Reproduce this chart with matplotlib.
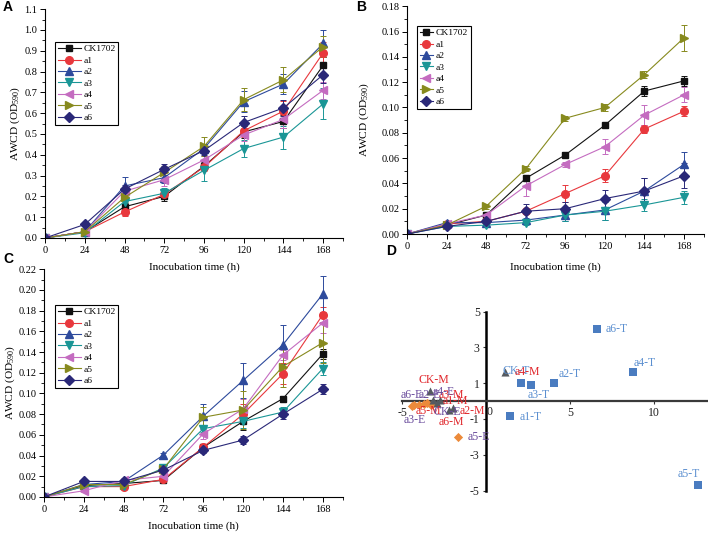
import matplotlib
matplotlib.use("Agg")
import matplotlib.pyplot as plt
from matplotlib.ticker import MultipleLocator, FormatStrFormatter
from matplotlib.lines import Line2D
import matplotlib.transforms as mtransforms

# ---------------- data ----------------
hours = [0, 24, 48, 72, 96, 120, 144, 168]
series_names = ["CK1702", "a1", "a2", "a3", "a4", "a5", "a6"]

# Panel A
A_CK = [0, 0.030, 0.150, 0.200, 0.345, 0.510, 0.560, 0.830]
A_a1 = [0, 0.030, 0.125, 0.210, 0.340, 0.515, 0.610, 0.890]
A_a2 = [0, 0.030, 0.250, 0.290, 0.430, 0.655, 0.740, 0.935]
A_a3 = [0, 0.025, 0.175, 0.215, 0.325, 0.430, 0.485, 0.645]
A_a4 = [0, 0.030, 0.225, 0.280, 0.375, 0.495, 0.570, 0.710]
A_a5 = [0, 0.030, 0.195, 0.315, 0.440, 0.665, 0.760, 0.920]
A_a6 = [0, 0.065, 0.235, 0.330, 0.420, 0.555, 0.625, 0.785]
A_err_CK = [0, 0.005, 0.020, 0.020, 0.020, 0.030, 0.030, 0.040]
A_err_a1 = [0, 0.005, 0.020, 0.020, 0.020, 0.030, 0.050, 0.050]
A_err_a2 = [0, 0.005, 0.045, 0.025, 0.020, 0.050, 0.050, 0.065]
A_err_a3 = [0, 0.005, 0.020, 0.025, 0.050, 0.040, 0.055, 0.075]
A_err_a4 = [0, 0.005, 0.020, 0.030, 0.020, 0.030, 0.040, 0.040]
A_err_a5 = [0, 0.005, 0.020, 0.030, 0.045, 0.055, 0.060, 0.050]
A_err_a6 = [0, 0.005, 0.020, 0.025, 0.020, 0.030, 0.040, 0.040]

# Panel B
B_CK = [0, 0.007, 0.015, 0.044, 0.0625, 0.086, 0.113, 0.121]
B_a1 = [0, 0.008, 0.010, 0.018, 0.032, 0.046, 0.083, 0.097]
B_a2 = [0, 0.009, 0.009, 0.011, 0.015, 0.019, 0.034, 0.055]
B_a3 = [0, 0.006, 0.007, 0.009, 0.015, 0.018, 0.023, 0.029]
B_a4 = [0, 0.008, 0.015, 0.038, 0.055, 0.069, 0.094, 0.110]
B_a5 = [0, 0.007, 0.022, 0.0515, 0.0915, 0.100, 0.126, 0.155]
B_a6 = [0, 0.006, 0.010, 0.018, 0.020, 0.028, 0.034, 0.046]
B_err_CK = [0, 0.001, 0.002, 0.002, 0.002, 0.002, 0.004, 0.004]
B_err_a1 = [0, 0.001, 0.001, 0.002, 0.007, 0.005, 0.003, 0.004]
B_err_a2 = [0, 0.001, 0.001, 0.002, 0.005, 0.008, 0.010, 0.010]
B_err_a3 = [0, 0.001, 0.001, 0.002, 0.005, 0.007, 0.005, 0.005]
B_err_a4 = [0, 0.001, 0.002, 0.008, 0.002, 0.006, 0.008, 0.006]
B_err_a5 = [0, 0.001, 0.002, 0.002, 0.002, 0.003, 0.003, 0.010]
B_err_a6 = [0, 0.001, 0.001, 0.006, 0.005, 0.007, 0.010, 0.010]

# Panel C
C_CK = [0, 0.011, 0.013, 0.016, 0.048, 0.073, 0.095, 0.138]
C_a1 = [0, 0.010, 0.010, 0.017, 0.048, 0.080, 0.119, 0.176]
C_a2 = [0, 0.012, 0.015, 0.0405, 0.078, 0.1125, 0.147, 0.196]
C_a3 = [0, 0.010, 0.011, 0.028, 0.066, 0.073, 0.082, 0.124]
C_a4 = [0, 0.006, 0.016, 0.020, 0.061, 0.085, 0.137, 0.168]
C_a5 = [0, 0.012, 0.012, 0.027, 0.077, 0.084, 0.126, 0.149]
C_a6 = [0, 0.015, 0.015, 0.026, 0.045, 0.055, 0.080, 0.104]
C_err_CK = [0, 0.001, 0.001, 0.002, 0.003, 0.008, 0.003, 0.005]
C_err_a1 = [0, 0.001, 0.001, 0.002, 0.003, 0.010, 0.010, 0.007]
C_err_a2 = [0, 0.001, 0.001, 0.002, 0.012, 0.017, 0.019, 0.017]
C_err_a3 = [0, 0.001, 0.002, 0.003, 0.003, 0.006, 0.005, 0.006]
C_err_a4 = [0, 0.001, 0.002, 0.003, 0.005, 0.010, 0.005, 0.010]
C_err_a5 = [0, 0.001, 0.001, 0.005, 0.010, 0.018, 0.020, 0.020]
C_err_a6 = [0, 0.001, 0.001, 0.002, 0.003, 0.004, 0.005, 0.005]

# Panel D (ordination scores)
T_labels = ["a6-T", "a4-T", "a2-T", "CK-T", "a3-T", "a1-T", "a5-T"]
T_x = [6.6, 8.75, 4.05, 2.1, 2.7, 1.4, 12.6]
T_y = [4.0, 1.6, 1.0, 1.0, 0.9, -0.85, -4.7]
M_labels = ["CK-M", "a4-M", "a3-M", "a5-M", "a1-M", "a6-M", "a2-M"]
M_x = [-3.33, 1.13, -2.75, -3.15, -2.9, -2.2, -1.95]
M_y = [0.55, 1.6, 0.05, 0.05, -0.1, -0.5, -0.4]
E_labels = ["a6-E", "a2-E", "a4-E", "CK-E", "a3-E", "a1-E", "a5-E"]
E_x = [-4.3, -4.0, -3.5, -3.3, -4.4, -3.7, -1.67]
E_y = [-0.25, -0.2, -0.1, -0.2, -0.3, -0.15, -2.0]

# label text positions for panel D (left edge, centre y)
T_lab_x = [7.1, 8.8, 4.3, 0.95, 2.45, 2.0, 11.4]
T_lab_y = [4.0, 2.1, 1.5, 1.7, 0.35, -0.9, -4.1]
M_lab_x = [-4.0, 1.7, -2.85, -4.2, -2.6, -2.8, -1.6]
M_lab_y = [1.2, 1.6, 0.33, -0.55, 0.0, -1.15, -0.55]
E_lab_x = [-5.1, -4.0, -3.2, -3.15, -4.9, None, -1.1]
E_lab_y = [0.33, 0.33, 0.5, -0.6, -1.05, None, -2.0]

# ---------------- styles ----------------
colors = ["#111111", "#e8383d", "#2d4a9c", "#1a9696", "#c46cc0", "#878a1e", "#2a2878"]
markers = ["s", "o", "^", "v", "<", ">", "D"]
msizes = [5.0, 5.5, 5.5, 5.5, 5.5, 5.5, 5.0]

serif = "Liberation Serif"
plt.rcParams["font.family"] = serif
plt.rcParams["mathtext.fontset"] = "custom"
plt.rcParams["mathtext.rm"] = serif
plt.rcParams["mathtext.it"] = serif
plt.rcParams["axes.unicode_minus"] = False

fig = plt.figure(figsize=(7.08, 5.36), dpi=100)


def line_panel(rect, data, errs, ymax, ymajor, fmt, leg_anchor, hlen, ylab_x, xlab_y):
    ax = fig.add_axes(rect)
    ax.patch.set_alpha(0)
    for i, name in enumerate(series_names):
        ax.errorbar(hours, data[i], yerr=errs[i], color=colors[i], marker=markers[i],
                    markersize=msizes[i], linewidth=0.8, elinewidth=0.7, capsize=2.0,
                    capthick=0.7, ecolor=colors[i])
    ax.set_xlim(0, 180)
    ax.set_ylim(0, ymax)
    ax.xaxis.set_major_locator(MultipleLocator(24))
    ax.xaxis.set_minor_locator(MultipleLocator(12))
    ax.yaxis.set_major_locator(MultipleLocator(ymajor))
    ax.yaxis.set_minor_locator(MultipleLocator(ymajor / 2))
    ax.yaxis.set_major_formatter(FormatStrFormatter(fmt))
    for s in ["top", "right"]:
        ax.spines[s].set_visible(False)
    for s in ["left", "bottom"]:
        ax.spines[s].set_linewidth(0.8)
    ax.tick_params(which="major", direction="out", length=3.5, width=0.7, labelsize=7.5, pad=2)
    ax.tick_params(which="minor", direction="out", length=2, width=0.6)
    ax.set_xlabel("Inocubation time (h)", fontsize=8, va="center")
    ax.set_ylabel("AWCD (OD$_{590}$)", fontsize=8.2, va="center")
    ax.yaxis.set_label_coords(ylab_x, 0.5)
    ax.xaxis.set_label_coords(0.5, xlab_y)
    handles = [Line2D([0], [0], color=colors[i], marker=markers[i], markersize=msizes[i],
                      linewidth=0.8) for i in range(len(series_names))]
    leg = ax.legend(handles, series_names, loc="upper left", bbox_to_anchor=leg_anchor,
                    bbox_transform=fig.transFigure, fontsize=6.8, frameon=True,
                    fancybox=False, framealpha=1, edgecolor="black",
                    handlelength=hlen, handletextpad=0.3, labelspacing=0.3,
                    borderpad=0.3, borderaxespad=0)
    leg.get_frame().set_linewidth(0.8)
    return ax


line_panel([0.0636, 0.556, 0.421, 0.427],
           [A_CK, A_a1, A_a2, A_a3, A_a4, A_a5, A_a6],
           [A_err_CK, A_err_a1, A_err_a2, A_err_a3, A_err_a4, A_err_a5, A_err_a6],
           1.1, 0.1, "%.1f", (55 / 708, 1 - 42 / 536), 2.4, -30 / 298, -29 / 229)

line_panel([0.575, 0.5634, 0.419, 0.425],
           [B_CK, B_a1, B_a2, B_a3, B_a4, B_a5, B_a6],
           [B_err_CK, B_err_a1, B_err_a2, B_err_a3, B_err_a4, B_err_a5, B_err_a6],
           0.18, 0.02, "%.2f", (417 / 708, 1 - 26 / 536), 1.4, -43 / 297, -33 / 228)

line_panel([0.062, 0.0728, 0.422, 0.425],
           [C_CK, C_a1, C_a2, C_a3, C_a4, C_a5, C_a6],
           [C_err_CK, C_err_a1, C_err_a2, C_err_a3, C_err_a4, C_err_a5, C_err_a6],
           0.22, 0.02, "%.2f", (55 / 708, 1 - 305 / 536), 2.4, -34 / 299, -29 / 228)

# ---------------- panel D ----------------
axd = fig.add_axes([0.5667, 0.0832, 0.433, 0.3373])
axd.set_xlim(-5.05, 13.2)
axd.set_ylim(-5.05, 5.05)
axd.spines["top"].set_visible(False)
axd.spines["right"].set_visible(False)
axd.spines["left"].set_position(("data", 0))
axd.spines["bottom"].set_position(("data", 0))
axd.spines["left"].set_bounds(-5, 5)
axd.spines["bottom"].set_bounds(-5, 13.2)
axd.spines["left"].set_linewidth(1.8)
axd.spines["left"].set_color("black")
axd.spines["bottom"].set_linewidth(1.6)
axd.spines["bottom"].set_color("#3a3a3a")
axd.set_xticks([-5, 0, 5, 10])
axd.set_yticks([5, 3, 1, -1, -3, -5])
axd.set_xticklabels(["-5", "", "5", "10"])
axd.set_yticklabels(["5", "3", "1", "-1", "-3", "-5"])
axd.tick_params(axis="both", direction="out", length=2.5, width=0.8, labelsize=8.5, pad=2,
                colors="#333333", labelcolor="#222222")
# "0" label of the x axis, drawn just right of the vertical axis line
axd.text(0, 0, "0", fontsize=8.5, color="#222222", ha="left", va="top", zorder=6,
         transform=axd.transData + mtransforms.ScaledTranslation(0.5 / 100, -4.5 / 100,
                                                                 fig.dpi_scale_trans))
axd.patch.set_alpha(0)

axd.scatter(E_x, E_y, marker="D", s=22, color="#ec8a3a", zorder=3, linewidths=0)
axd.scatter(M_x, M_y, marker="^", s=34, color="#555a60", zorder=4, linewidths=0)
axd.scatter(T_x, T_y, marker="s", s=40, color="#4a7cc0", zorder=3, linewidths=0)

for lab, lx, ly in zip(T_labels, T_lab_x, T_lab_y):
    axd.text(lx, ly, lab, color="#5b8fd0", fontsize=8.5, va="center", ha="left", zorder=5)
for lab, lx, ly in zip(M_labels, M_lab_x, M_lab_y):
    axd.text(lx, ly, lab, color="#e0262b", fontsize=8.5, va="center", ha="left", zorder=5)
for lab, lx, ly in zip(E_labels, E_lab_x, E_lab_y):
    if lx is None:
        continue
    axd.text(lx, ly, lab, color="#6a4c9c", fontsize=8.5, va="center", ha="left", zorder=5)

# ---------------- panel letters ----------------
for letter, px, py in [("A", 3, 7), ("B", 356, 7), ("C", 3, 259), ("D", 386, 251)]:
    fig.text(px / 708, 1 - py / 536, letter, fontsize=10, fontweight="bold",
             family="Liberation Sans", ha="left", va="center")

fig.savefig("out.png", dpi=100)
